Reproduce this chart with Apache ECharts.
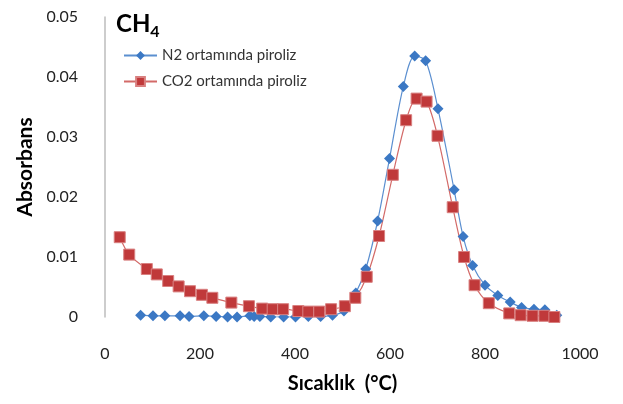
<!DOCTYPE html>
<html><head><meta charset="utf-8">
<script src="https://cdn.jsdelivr.net/npm/echarts@6/dist/echarts.min.js"></script>
<style>html,body{margin:0;padding:0;background:#fff}#c{width:623px;height:404px}</style>
</head><body><div id="c"></div>
<script>
const n2Temp = [75,101,126,158,177,208,234,258,278,305,314,326,349,376,401,428,454,479,503,528,549,574,599,628,652,675,701,735,754,774,800,827,853,877,903,926,951];
const n2Abs  = [0.0003,0.0002,0.0002,0.0002,0.0001,0.0002,0.0001,0.0000,0.0000,0.0002,0.0001,0.0001,0.0000,0.0000,0.0000,0.0001,0.0001,0.0003,0.0010,0.0040,0.0080,0.0160,0.0264,0.0384,0.0435,0.0427,0.0347,0.0212,0.0134,0.0086,0.0053,0.0036,0.0025,0.0016,0.0013,0.0012,0.0003];
const co2Temp = [31,51,88,109,133,155,179,204,226,266,303,331,353,375,407,428,451,476,505,527,551,577,606,634,656,677,700,732,756,778,808,851,875,900,925,946];
const co2Abs  = [0.0133,0.0104,0.0080,0.0071,0.0060,0.0051,0.0043,0.0037,0.0032,0.0024,0.0018,0.0014,0.0013,0.0013,0.0010,0.0009,0.0009,0.0013,0.0018,0.0032,0.0067,0.0135,0.0237,0.0328,0.0364,0.0359,0.0302,0.0183,0.0100,0.0053,0.0023,0.0006,0.0003,0.0002,0.0002,0.0000];
const seriesNames = ['N2 ortamında piroliz','CO2 ortamında piroliz'];

const font = 'Lato, "Liberation Sans", sans-serif';
const chart = echarts.init(document.getElementById('c'), null, {renderer:'canvas'});
chart.setOption({
  animation:false,
  textStyle:{fontFamily:font},
  title:{
    text:'{a|CH}{b|4}', left:111, top:3,
    textStyle:{rich:{
      a:{fontSize:24,fontWeight:'bold',color:'#000',fontFamily:font},
      b:{fontSize:16,fontWeight:'bold',color:'#000',fontFamily:font,padding:[16,0,0,0]}
    }}
  },
  legend:{
    orient:'vertical', left:118, top:43, itemGap:11, itemWidth:33, itemHeight:11,
    textStyle:{fontSize:15,color:'#333',fontFamily:font},
    data:seriesNames
  },
  grid:{left:105,right:43,top:17,bottom:87},
  xAxis:{
    type:'value', min:0, max:1000, interval:200,
    name:'Sıcaklık  (°C)', nameLocation:'middle', nameGap:57,
    nameTextStyle:{fontSize:20,fontWeight:'bold',color:'#000',fontFamily:font},
    axisLine:{show:false}, axisTick:{show:false}, splitLine:{show:false},
    axisLabel:{fontSize:16,color:'#222',margin:29,fontFamily:font,
      formatter:function(v){return String(v);}}
  },
  yAxis:{
    type:'value', min:0, max:0.05, interval:0.01,
    name:'Absorbans', nameLocation:'middle', nameGap:66,
    nameTextStyle:{fontSize:21,fontWeight:'bold',color:'#000',fontFamily:font},
    axisLine:{show:true,lineStyle:{color:'#bdbdbd',width:1.5}}, axisTick:{show:false}, splitLine:{show:false},
    axisLabel:{fontSize:16,color:'#222',margin:27,fontFamily:font,
      formatter:function(v){return String(Math.round(v*100)/100);}}
  },
  series:[
    {name:seriesNames[0], type:'line', smooth:0.3,
     data:n2Temp.map((t,i)=>[t,n2Abs[i]]),
     symbol:'diamond', symbolSize:11,
     lineStyle:{color:'#5b8fd0',width:1.2},
     itemStyle:{color:'#3b78c4'}},
    {name:seriesNames[1], type:'line', smooth:0.3,
     data:co2Temp.map((t,i)=>[t,co2Abs[i]]),
     symbol:'rect', symbolSize:11,
     lineStyle:{color:'#d36a68',width:1.2},
     itemStyle:{color:'#c0393a',borderColor:'#d98080',borderWidth:1}}
  ]
});
</script></body></html>
